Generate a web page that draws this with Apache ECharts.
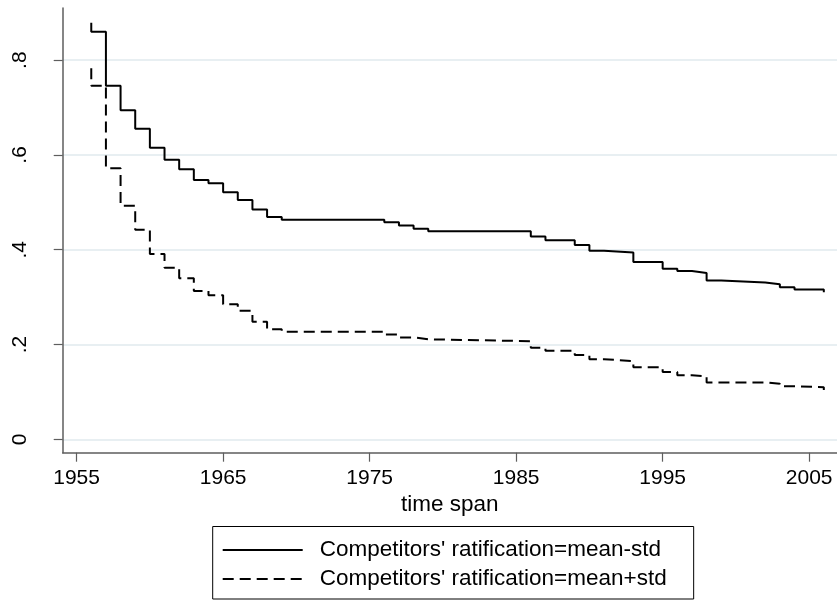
<!DOCTYPE html>
<html>
<head>
<meta charset="utf-8">
<script src="https://cdn.jsdelivr.net/npm/echarts@6/dist/echarts.min.js"></script>
<style>
html,body{margin:0;padding:0;background:#fff;}
#chart{width:837px;height:600px;}
</style>
</head>
<body>
<div id="chart"></div>
<script>
// Step curves: [year, value]; the value holds until the next year listed
var solidYears  = [1956, 1956, 1957, 1958, 1959, 1960, 1961, 1962, 1963, 1964, 1965, 1966, 1967, 1968, 1969, 1976, 1977, 1978, 1979, 1986, 1987, 1989, 1990, 1991, 1993, 1995, 1996, 1997, 1998, 1999, 2002, 2003, 2004, 2006];
var solidValues = [0.879, 0.860, 0.746, 0.694, 0.655, 0.615, 0.590, 0.570, 0.547, 0.540, 0.521, 0.505, 0.485, 0.469, 0.463, 0.458, 0.451, 0.444, 0.439, 0.428, 0.420, 0.410, 0.398, 0.394, 0.374, 0.360, 0.355, 0.351, 0.335, 0.331, 0.327, 0.321, 0.316, 0.310];

var dashedYears  = [1956, 1956, 1957, 1958, 1959, 1960, 1961, 1962, 1963, 1964, 1965, 1966, 1967, 1968, 1969, 1976, 1977, 1978, 1979, 1986, 1987, 1989, 1990, 1991, 1993, 1995, 1996, 1997, 1998, 2002, 2003, 2004, 2006];
var dashedValues = [0.783, 0.746, 0.572, 0.493, 0.442, 0.391, 0.362, 0.340, 0.313, 0.304, 0.285, 0.271, 0.248, 0.232, 0.227, 0.221, 0.215, 0.211, 0.207, 0.193, 0.187, 0.178, 0.169, 0.165, 0.152, 0.142, 0.135, 0.133, 0.120, 0.117, 0.112, 0.110, 0.104];

var xTicks = [1955, 1965, 1975, 1985, 1995, 2005];
var yTicks = [0, 0.2, 0.4, 0.6, 0.8];

var seriesNames = ["Competitors' ratification=mean-std", "Competitors' ratification=mean+std"];
var xAxisTitle = 'time span';

function pairs(xs, ys) { return xs.map(function (x, i) { return [x, ys[i]]; }); }

var FONT = '"Liberation Sans", Arial, sans-serif';
var AXIS_COLOR = '#5e5e5e';

var chart = echarts.init(document.getElementById('chart'), null, {renderer: 'canvas'});
chart.setOption({
  backgroundColor: '#ffffff',
  animation: false,
  textStyle: {fontFamily: FONT, color: '#000'},
  grid: {left: 62.7, top: 8, right: 0, bottom: 147.3, containLabel: false},
  xAxis: {
    type: 'value',
    min: 1954.05,
    max: 2006.9,
    name: xAxisTitle,
    nameLocation: 'middle',
    nameGap: 35,
    nameTextStyle: {fontFamily: FONT, fontSize: 22.5, color: '#000'},
    axisLine: {show: true, onZero: false, lineStyle: {color: AXIS_COLOR, width: 1.5}},
    axisTick: {show: true, length: 9, customValues: xTicks, lineStyle: {color: AXIS_COLOR, width: 1.2}},
    axisLabel: {customValues: xTicks, margin: 15, fontFamily: FONT, fontSize: 21, color: '#000',
      formatter: function (v) { return String(v); }},
    splitLine: {show: false}
  },
  yAxis: {
    type: 'value',
    min: -0.0283,
    max: 0.91,
    axisLine: {show: true, onZero: false, lineStyle: {color: AXIS_COLOR, width: 1.5}},
    axisTick: {show: true, length: 9, customValues: yTicks, lineStyle: {color: AXIS_COLOR, width: 1.2}},
    axisLabel: {customValues: yTicks, rotate: 90, margin: 32, fontFamily: FONT, fontSize: 21, color: '#000',
      formatter: function (v) { return v === 0 ? '0' : String(Math.round(v * 10) / 10).replace(/^0\./, '.'); }},
    splitLine: {show: true, lineStyle: {color: '#e8eff2', width: 2}}
  },
  legend: {
    orient: 'vertical',
    left: 212.7,
    top: 526.5,
    padding: [11.5, 27, 8, 9],
    itemWidth: 80,
    itemHeight: 14,
    itemGap: 5,
    borderColor: '#000',
    borderWidth: 1,
    borderRadius: 0,
    itemStyle: {color: 'rgba(0,0,0,0)', borderWidth: 0, opacity: 0},
    textStyle: {fontFamily: FONT, fontSize: 22.5, color: '#000', lineHeight: 24, padding: [0, 0, 0, 12]},
    data: seriesNames
  },
  series: [
    {
      name: seriesNames[0], type: 'line', step: 'end', symbol: 'none',
      lineStyle: {color: '#000', width: 2, type: 'solid'},
      itemStyle: {color: '#000'},
      data: pairs(solidYears, solidValues)
    },
    {
      name: seriesNames[1], type: 'line', step: 'end', symbol: 'none',
      lineStyle: {color: '#000', width: 2, type: [11, 6]},
      itemStyle: {color: '#000'},
      data: pairs(dashedYears, dashedValues)
    }
  ]
});
</script>
</body>
</html>
